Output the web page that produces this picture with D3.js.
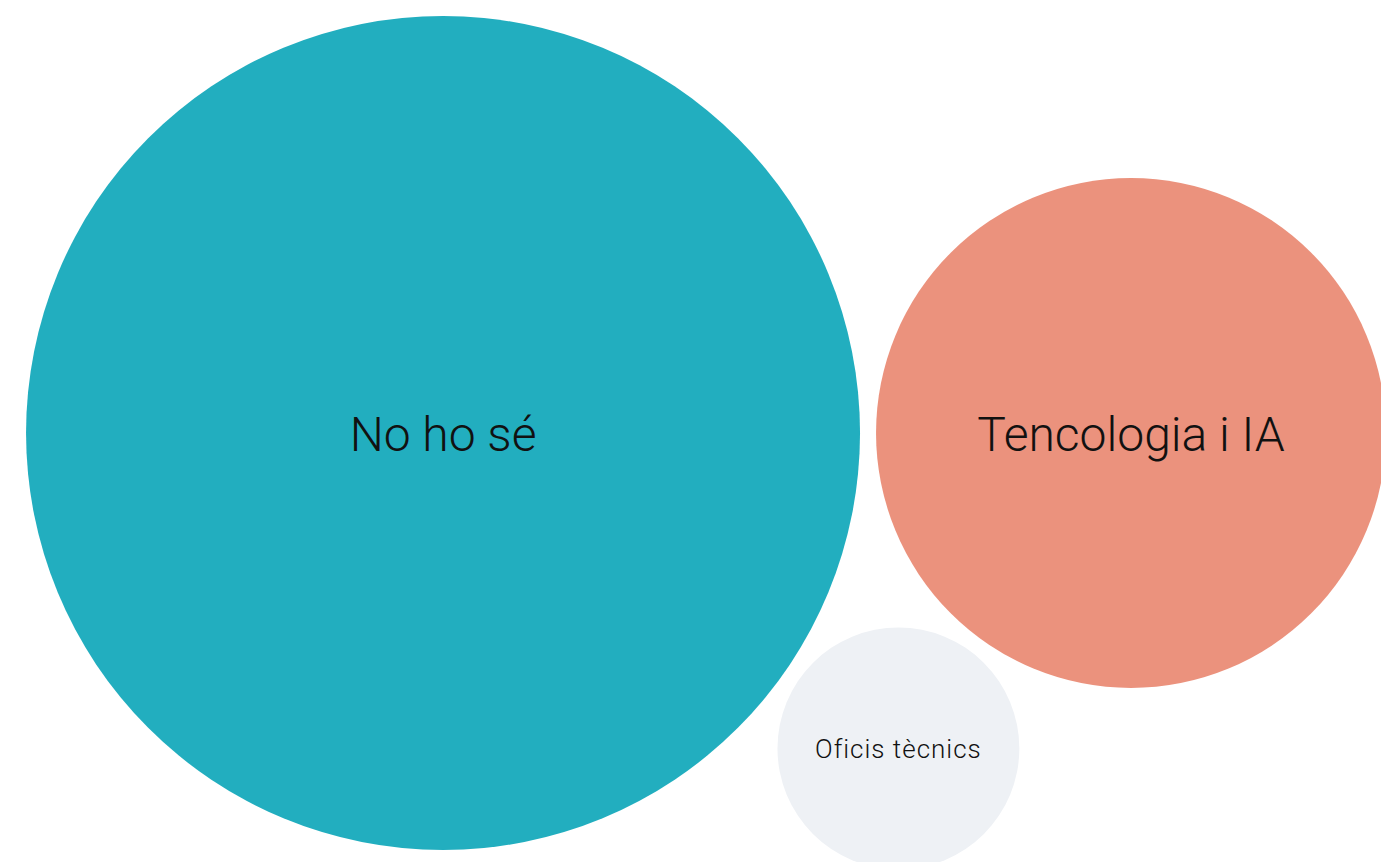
<!DOCTYPE html>
<html lang="ca">
<head>
    <meta charset="UTF-8">
    <title>Bubble chart</title>
    <script src="https://d3js.org/d3.v7.min.js"></script>
    <style>
        body { margin: 0; overflow: hidden; background: #fff; }
        .label {
            font-family: Roboto, sans-serif;
            font-weight: 300;
            fill: #111;
        }
    </style>
</head>
<body>
    <svg></svg>
    <script>
        // data
        const categories = ["No ho sé", "Tencologia i IA", "Oficis tècnics"];
        const values = [107, 40, 9];
        const colors = ["#22AEBF", "#EB927D", "#EEF1F5"];
        const fontSizes = [48, 48, 26];
        const spacing = [0, 0, 1];

        const width = 1412,
            height = 866,
            padding = 8;

        const svg = d3.select("svg")
            .attr("width", width)
            .attr("height", height);

        const r = d3.scaleSqrt()
            .domain([0, d3.max(values)])
            .range([0, 417]);

        const nodes = categories.map((c, i) => ({
            name: c,
            value: values[i],
            color: colors[i],
            fs: fontSizes[i],
            ls: spacing[i],
            r: r(values[i]) + padding
        }));

        d3.packSiblings(nodes);
        const enc = d3.packEnclose(nodes);

        const g = svg.append("g")
            .attr("transform", `translate(${width / 2 - enc.x},${height / 2 - enc.y})`);

        const node = g.selectAll(".node")
            .data(nodes)
            .enter().append("g")
            .attr("class", "node")
            .attr("transform", d => `translate(${d.x},${d.y})`);

        node.append("circle")
            .attr("r", d => d.r - padding)
            .attr("fill", d => d.color);

        node.append("text")
            .attr("class", "label")
            .attr("text-anchor", "middle")
            .attr("dy", "0.38em")
            .style("font-size", d => d.fs + "px")
            .style("letter-spacing", d => d.ls + "px")
            .text(d => d.name);
    </script>
</body>
</html>
